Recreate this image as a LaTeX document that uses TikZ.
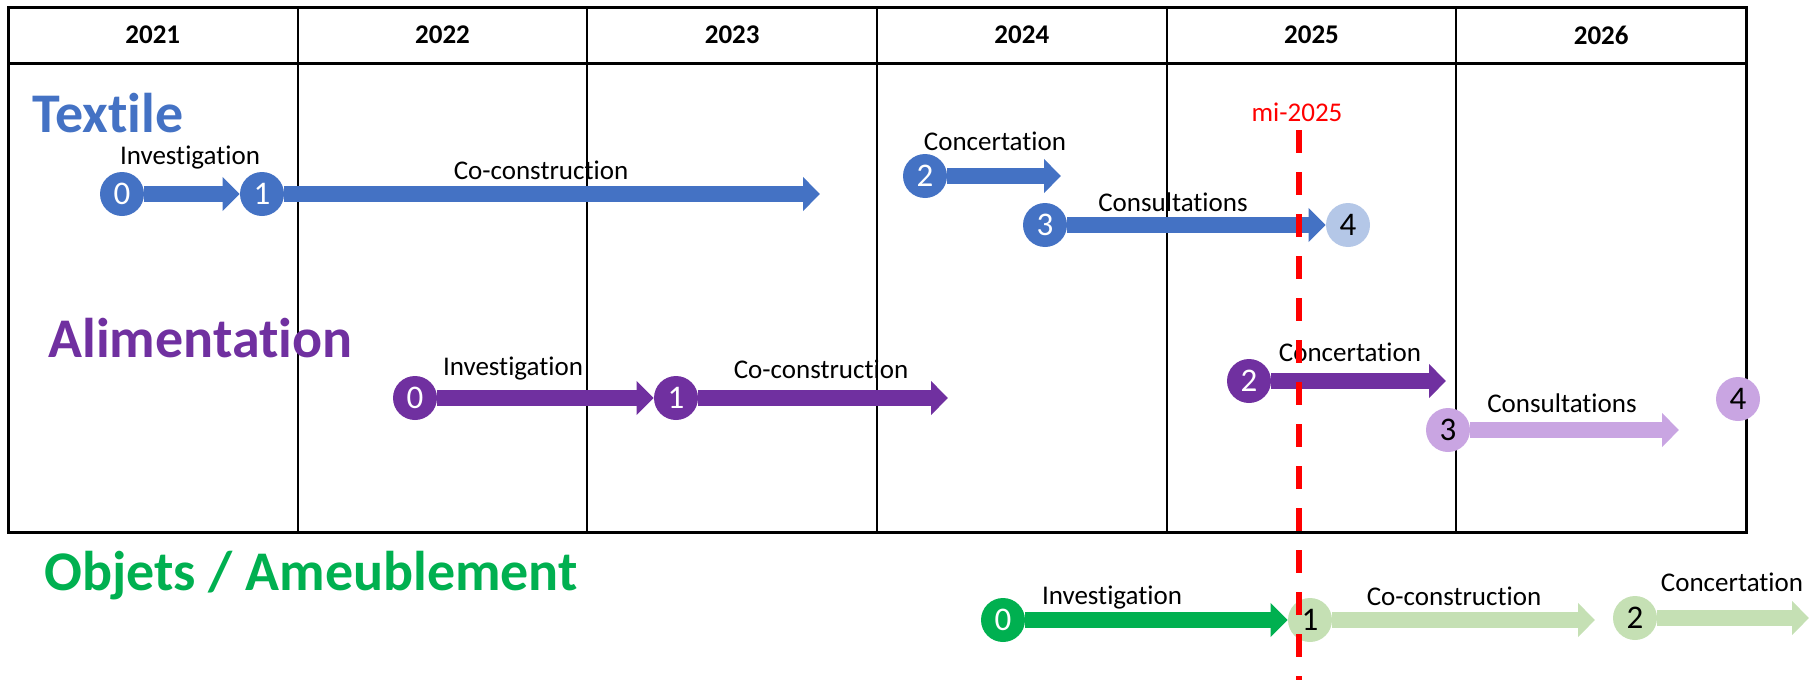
\documentclass[tikz,border=0pt]{standalone}
\usepackage{fontspec}
\setmainfont{Carlito}[Ligatures=NoCommon]
\usepackage{xcolor}
\usepackage{tikz}
\usetikzlibrary{arrows.meta}

\definecolor{txtblue}{HTML}{4472C4}
\definecolor{txtpale}{HTML}{B4C7E7}
\definecolor{alipurple}{HTML}{7030A0}
\definecolor{alipale}{HTML}{C9A5E2}
\definecolor{objgreen}{HTML}{00B050}
\definecolor{objpale}{HTML}{C5E0B4}

\tikzset{
  milestone/.style={circle, fill=#1, minimum size=22pt, inner sep=0pt, text=white, font=\fontsize{16.5}{17}\selectfont},
  palestone/.style={milestone=#1, text=black},
  phase/.style={#1, line width=8pt, -{Triangle[length=8.5pt,width=16.5pt]}},
  tag/.style={font=\fontsize{13.5}{16}\selectfont},
  sector/.style={anchor=west, inner sep=0pt, font=\fontsize{28}{30}\selectfont\bfseries},
  yearlbl/.style={font=\fontsize{13.5}{16}\selectfont\bfseries},
  frame/.style={line width=1.5pt},
  colline/.style={line width=1pt},
  midline/.style={red, line width=3pt, dash pattern=on 11.5pt off 9.5pt}
}

\begin{document}
\begin{tikzpicture}[x=0.5pt, y=-0.5pt]
  \useasboundingbox (0,0) rectangle (1810,680); %
  \clip (0,0) rectangle (1810,680); %

  % year grid
  \draw[frame] (8,7) rectangle (1746,532); %
  \draw[frame] (8,63) -- (1746,63); %
  \draw[colline] (297.7,7) -- (297.7,532); %
  \draw[colline] (587.3,7) -- (587.3,532); %
  \draw[colline] (877,7) -- (877,532); %
  \draw[colline] (1166.7,7) -- (1166.7,532); %
  \draw[colline] (1456.3,7) -- (1456.3,532); %

  \node[yearlbl] (y2021) at (152.8,35) {2021}; %
  \node[yearlbl] (y2022) at (442.5,35) {2022}; %
  \node[yearlbl] (y2023) at (732.2,35) {2023}; %
  \node[yearlbl] (y2024) at (1021.8,35) {2024}; %
  \node[yearlbl] (y2025) at (1311.5,35) {2025}; %
  \node[yearlbl] (y2026) at (1601.2,35) {2026}; %

  % Textile
  \node[sector, text=txtblue] (textile) at (32,113) {Textile}; %
  \node[milestone=txtblue] (t0) at (122,194) {0}; %
  \node[milestone=txtblue] (t1) at (262,194) {1}; %
  \coordinate (t1e) at (820,194); %
  \node[milestone=txtblue] (t2) at (925,176) {2}; %
  \coordinate (t2e) at (1061,176); %
  \node[milestone=txtblue] (t3) at (1045,225) {3}; %
  \node[palestone=txtpale] (t4) at (1348,225) {4}; %

  \node[tag] (t0lbl) at (190,158) {Investigation}; %
  \node[tag] (t1lbl) at (541,170) {Co-construction}; %
  \node[tag] (t2lbl) at (995,141) {Concertation}; %
  \node[tag] (t3lbl) at (1173,202) {Consultations}; %

  \draw[phase=txtblue] (t0) -- (t1); %
  \draw[phase=txtblue] (t1) -- (t1e); %
  \draw[phase=txtblue] (t2) -- (t2e); %
  \draw[phase=txtblue] (t3) -- (t4); %

  % Alimentation
  \node[sector, text=alipurple] (alim) at (48,338) {Alimentation}; %
  \node[milestone=alipurple] (a0) at (415,398) {0}; %
  \node[milestone=alipurple] (a1) at (676,398) {1}; %
  \coordinate (a1e) at (948,398); %
  \node[milestone=alipurple] (a2) at (1249,381) {2}; %
  \coordinate (a2e) at (1446,381); %
  \node[palestone=alipale] (a3) at (1448,430) {3}; %
  \coordinate (a3e) at (1679,430); %
  \node[palestone=alipale] (a4) at (1738,399) {4}; %

  \node[tag] (a0lbl) at (513,369) {Investigation}; %
  \node[tag] (a1lbl) at (821,369) {Co-construction}; %
  \node[tag] (a2lbl) at (1350,352) {Concertation}; %
  \node[tag] (a3lbl) at (1562,403) {Consultations}; %

  \draw[phase=alipurple] (a0) -- (a1); %
  \draw[phase=alipurple] (a1) -- (a1e); %
  \draw[phase=alipurple] (a2) -- (a2e); %
  \draw[phase=alipale] (a3) -- (a3e); %

  % Objets / Ameublement
  \node[sector, anchor=base west, text=objgreen] (objets) at (44,590) {Objets / Ameublement}; %
  \node[milestone=objgreen] (o0) at (1003,620) {0}; %
  \node[palestone=objpale] (o1) at (1310,620) {1}; %
  \coordinate (o1e) at (1595,620); %
  \node[palestone=objpale] (o2) at (1635,618) {2}; %
  \coordinate (o2e) at (1809,618); %

  \node[tag] (o0lbl) at (1112,598) {Investigation}; %
  \node[tag] (o1lbl) at (1454,596) {Co-construction}; %
  \node[tag] (o2lbl) at (1732,582) {Concertation}; %

  \draw[phase=objgreen] (o0) -- (o1); %
  \draw[phase=objpale] (o1) -- (o1e); %
  \draw[phase=objpale] (o2) -- (o2e); %

  % mi-2025
  \node[tag, text=red] (mi) at (1297,112) {mi-2025}; %
  \coordinate (mitop) at (1299,130); %
  \coordinate (mibot) at (1299,680); %
  \draw[midline] (mitop) -- (mibot); %
\end{tikzpicture}
\end{document}
